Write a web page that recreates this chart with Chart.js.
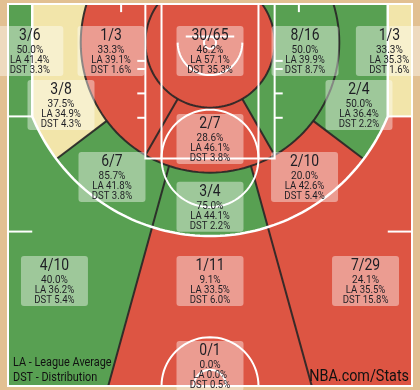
<!DOCTYPE html>
<html>
<head>
<meta charset="utf-8">
<script src="https://cdn.jsdelivr.net/npm/chart.js@4.4.1/dist/chart.umd.min.js"></script>
<style>
html, body { margin: 0; padding: 0; background: #fff; }
canvas { display: block; }
</style>
</head>
<body>
<canvas id="court" width="420" height="390"></canvas>
<script>
// zones, in the same order for every array below
const zones = ['Left Corner 3', 'Left 8-16 ft', 'Less Than 8 ft', 'Right 8-16 ft', 'Right Corner 3',
  'Left 16-24 ft', 'Right 16-24 ft', 'Center 8-16 ft', 'Left Center 16-24 ft', 'Right Center 16-24 ft',
  'Center 16-24 ft', 'Left Center 24+ ft', 'Center 24+ ft', 'Right Center 24+ ft', 'Back Court'];
const made = [3, 1, 30, 8, 1, 3, 2, 2, 6, 2, 3, 4, 1, 7, 0];
const attempts = [6, 3, 65, 16, 3, 8, 4, 7, 7, 10, 4, 10, 11, 29, 1];
const leagueAvg = [41.4, 39.1, 57.1, 39.9, 35.3, 34.9, 36.4, 46.1, 41.8, 42.6, 44.1, 36.2, 33.5, 35.5, 0.0];
const distribution = [3.3, 1.6, 35.3, 8.7, 1.6, 4.3, 2.2, 3.8, 3.8, 5.4, 2.2, 5.4, 6.0, 15.8, 0.5];

// court geometry in feet (x from centre, y from baseline)
const BY = 4.75;       // basket
const R3 = 23.8;       // three point arc
const YC = BY + Math.sqrt(R3 * R3 - 22 * 22);
const TC = Math.atan2(22, YC - BY) * 180 / Math.PI;
const CL = 0.85, CK = 0.278;   // centre zone lines x = +-(CL + CK*(y-BY))

// where the label boxes sit (feet)
const labelSpots = [[-22.3, 5.78], [-12.25, 5.78], [0, 5.78], [11.76, 5.78], [22.2, 5.78],
  [-18.44, 12.43], [18.44, 12.43], [0, 16.6], [-12.13, 21.28], [11.7, 21.28],
  [0, 24.94], [-19.25, 34.08], [0, 34.08], [19.25, 34.08], [0, 44.54]];

const GREEN = 'rgb(88,160,82)';
const RED = 'rgb(221,85,67)';
const YELLOW = 'rgb(242,229,170)';
const WOOD = 'rgb(226,192,146)';
const DARK = 'rgba(38,38,38,0.9)';

function ray(a, r) {
  const t = a * Math.PI / 180;
  return [r * Math.sin(t), BY + r * Math.cos(t)];
}
function arc(r, a0, a1, n, cx, cy) {
  n = n || 60;
  const pts = [];
  for (let i = 0; i <= n; i++) {
    const t = (a0 + (a1 - a0) * i / n) * Math.PI / 180;
    pts.push([(cx || 0) + r * Math.sin(t), (cy === undefined ? BY : cy) + r * Math.cos(t)]);
  }
  return pts;
}
function circle(r) { return arc(r, -180, 180, 140); }
function threeShape() {
  return [[-22, -12], [-22, YC]].concat(arc(R3, -TC, TC, 90), [[22, YC], [22, -12]]);
}
const courtRect = [[-30, -13], [30, -13], [30, 60], [-30, 60]];

const bands = {
  a0: [circle(8)],
  a1: [circle(16), circle(8)],
  a2: [threeShape(), circle(16)],
  a3: [courtRect, threeShape()]
};
function angleWedge(a0, a1) { return [[0, BY]].concat(arc(120, a0, a1, 40)); }
const far = CL + 100 * CK;
const centerW = [[-CL, BY], [-far, BY + 100], [far, BY + 100], [CL, BY]];
const lcW16 = [[0, BY], ray(-53, 120), [-far, BY + 100], [-CL, BY]];
const rcW16 = [[0, BY], ray(53, 120), [far, BY + 100], [CL, BY]];
const cy = CL + CK * (YC - BY);
const lcW24 = [[-cy, YC], [-40, YC], [-40, BY + 100], [-far, BY + 100]];
const rcW24 = [[cy, YC], [40, YC], [40, BY + 100], [far, BY + 100]];
const cornerL = [[-40, -13], [-22, -13], [-22, YC], [-40, YC]];
const cornerR = [[40, -13], [22, -13], [22, YC], [40, YC]];

const zoneShapes = [
  ['a3', cornerL], ['a1', angleWedge(-180, -30)], ['a0', null], ['a1', angleWedge(30, 180)], ['a3', cornerR],
  ['a2', angleWedge(-180, -53)], ['a2', angleWedge(53, 180)], ['a1', angleWedge(-30, 30)], ['a2', lcW16], ['a2', rcW16],
  ['a2', centerW], ['a3', lcW24], ['a3', centerW], ['a3', rcW24], null
];

function zoneColor(i) {
  const diff = made[i] / attempts[i] * 100 - leagueAvg[i];
  if (diff > 3) return GREEN;
  if (diff < -3) return RED;
  return YELLOW;
}

function addPoly(ctx, chart, pts, close) {
  const xs = chart.scales.x, ys = chart.scales.y;
  pts.forEach((p, i) => {
    const px = xs.getPixelForValue(p[0]), py = ys.getPixelForValue(p[1]);
    if (i === 0) ctx.moveTo(px, py); else ctx.lineTo(px, py);
  });
  if (close) ctx.closePath();
}
function strokePts(ctx, chart, pts, close) {
  ctx.beginPath();
  addPoly(ctx, chart, pts, close);
  ctx.stroke();
}

function drawText(ctx, text, x, y, font, align) {
  ctx.save();
  ctx.translate(x, y);
  ctx.scale(0.87, 1);
  ctx.font = font;
  ctx.textAlign = align || 'center';
  ctx.textBaseline = 'alphabetic';
  ctx.fillText(text, 0, 0);
  ctx.restore();
}

const courtPlugin = {
  id: 'court',
  beforeDraw(chart) {
    const ctx = chart.ctx;
    ctx.save();
    ctx.fillStyle = WOOD;
    ctx.fillRect(0, 0, chart.width, chart.height);
    ctx.restore();
  },
  beforeDatasetsDraw(chart) {
    const ctx = chart.ctx, area = chart.chartArea;
    ctx.save();
    ctx.beginPath();
    ctx.rect(area.left, area.top, area.right - area.left, area.bottom - area.top);
    ctx.clip();
    ctx.fillStyle = RED;
    ctx.fillRect(area.left, area.top, area.right - area.left, area.bottom - area.top);

    // zones
    zoneShapes.forEach((z, i) => {
      if (!z) return;
      ctx.save();
      if (z[1]) {
        ctx.beginPath();
        addPoly(ctx, chart, z[1], true);
        ctx.clip();
      }
      ctx.beginPath();
      bands[z[0]].forEach(p => addPoly(ctx, chart, p, true));
      ctx.fillStyle = zoneColor(i);
      ctx.fill('evenodd');
      ctx.restore();
    });

    // dark zone borders
    ctx.strokeStyle = DARK;
    ctx.lineWidth = 2;
    strokePts(ctx, chart, circle(8), true);
    strokePts(ctx, chart, circle(16), true);
    [-30, 30].forEach(a => strokePts(ctx, chart, [ray(a, 8), ray(a, 16)]));
    [-53, 53].forEach(a => strokePts(ctx, chart, [ray(a, 16), ray(a, R3)]));
    [-1, 1].forEach(s => {
      // start of centre line on the 16 ft circle
      const k = CK, c = CL;
      const t = (-c * k + Math.sqrt(c * c * k * k - (1 + k * k) * (c * c - 256))) / (1 + k * k);
      strokePts(ctx, chart, [[s * (c + k * t), BY + t], [s * far, BY + 100]]);
    });

    // court lines
    ctx.strokeStyle = '#fff';
    ctx.lineWidth = 2;
    strokePts(ctx, chart, [[-8, 0], [-8, 19], [8, 19], [8, 0]]);
    strokePts(ctx, chart, [[-6, 0], [-6, 19]]);
    strokePts(ctx, chart, [[6, 0], [6, 19]]);
    strokePts(ctx, chart, arc(6, -180, 180, 80, 0, 19), true);
    strokePts(ctx, chart, arc(4, -90, 90, 40));
    strokePts(ctx, chart, [[-3, 4], [3, 4]]);
    strokePts(ctx, chart, arc(0.75, -180, 180, 20), true);
    [7, 8, 11, 14].forEach(y => {
      strokePts(ctx, chart, [[-9, y], [-8, y]]);
      strokePts(ctx, chart, [[8, y], [9, y]]);
    });
    strokePts(ctx, chart, [[-11, 0], [-11, 1]]);
    strokePts(ctx, chart, [[11, 0], [11, 1]]);
    strokePts(ctx, chart, [[-25, 28], [-22, 28]]);
    strokePts(ctx, chart, [[25, 28], [22, 28]]);
    strokePts(ctx, chart, [[-25, YC], [-22, YC]]);
    strokePts(ctx, chart, [[25, YC], [22, YC]]);
    strokePts(ctx, chart, arc(6, -180, 180, 80, 0, 47), true);
    strokePts(ctx, chart, arc(2, -180, 180, 40, 0, 47), true);
    ctx.lineWidth = 2.5;
    strokePts(ctx, chart, [[-22, 0], [-22, YC]].concat(arc(R3, -TC, TC, 90), [[22, YC], [22, 0]]));
    ctx.restore();

    ctx.save();
    ctx.strokeStyle = '#fff';
    ctx.lineWidth = 2;
    ctx.strokeRect(area.left, area.top, area.right - area.left, area.bottom - area.top);
    ctx.restore();
  },
  afterDatasetsDraw(chart) {
    const ctx = chart.ctx;
    const meta = chart.getDatasetMeta(0);
    ctx.save();
    meta.data.forEach((pt, i) => {
      const x = pt.x, top = pt.y - 25;
      ctx.fillStyle = 'rgba(255,255,255,0.42)';
      ctx.beginPath();
      ctx.roundRect(x - 33.5, top, 67, 50, 3);
      ctx.fill();
      ctx.fillStyle = '#1e1e24';
      const pct = (made[i] / attempts[i] * 100).toFixed(1) + '%';
      drawText(ctx, made[i] + '/' + attempts[i], x, top + 14, '16px Roboto');
      drawText(ctx, pct, x, top + 26.8, '11.5px Roboto');
      drawText(ctx, 'LA ' + leagueAvg[i].toFixed(1) + '%', x, top + 36.8, '11px Roboto');
      drawText(ctx, 'DST ' + distribution[i].toFixed(1) + '%', x, top + 46.8, '11px Roboto');
    });
    ctx.fillStyle = '#111';
    drawText(ctx, 'LA - League Average', 13, 366, '12.5px Roboto', 'left');
    drawText(ctx, 'DST - Distribution', 13, 381, '12.5px Roboto', 'left');
    drawText(ctx, 'NBA.com/Stats', 409, 381, '16.5px Roboto', 'right');
    ctx.restore();
  }
};

new Chart(document.getElementById('court').getContext('2d'), {
  type: 'scatter',
  data: {
    datasets: [{
      label: 'Zones',
      data: labelSpots.map(p => ({ x: p[0], y: p[1] })),
      pointRadius: 0,
      pointHoverRadius: 0
    }]
  },
  options: {
    responsive: false,
    animation: false,
    layout: { padding: { left: 8, right: 8, top: 4, bottom: 4 } },
    scales: {
      x: { type: 'linear', min: -25, max: 25, display: false },
      y: { type: 'linear', min: 0, max: 47, reverse: true, display: false }
    },
    plugins: {
      legend: { display: false },
      tooltip: { enabled: false }
    }
  },
  plugins: [courtPlugin]
});
</script>
</body>
</html>
